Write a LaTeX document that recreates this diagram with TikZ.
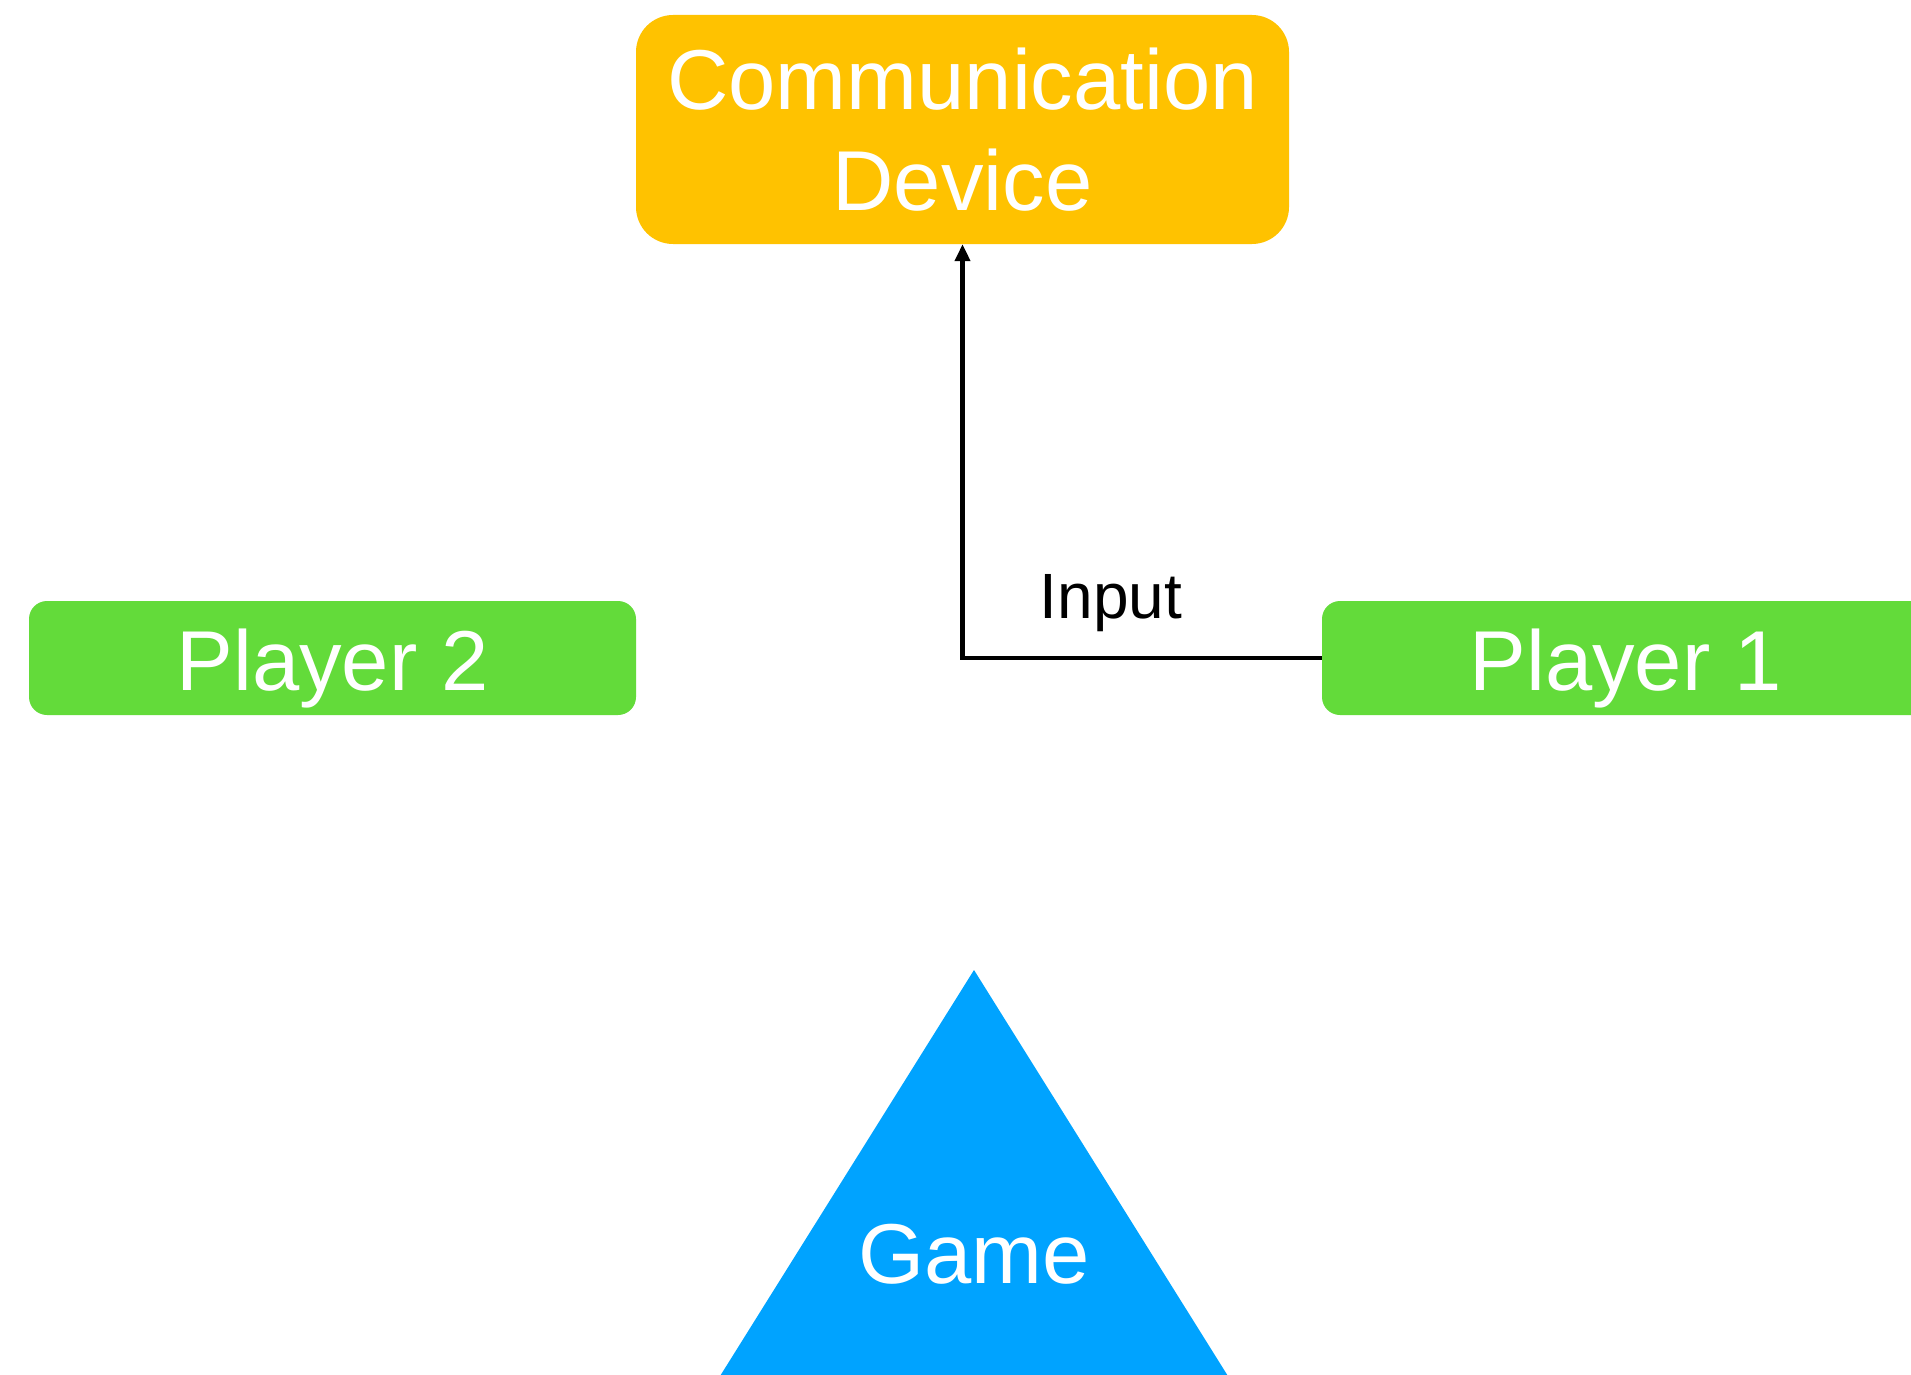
\documentclass[tikz,border=0pt]{standalone}
\usepackage{fontspec}
\setmainfont{Liberation Sans}
\usetikzlibrary{arrows.meta}
\definecolor{devorange}{HTML}{FFC200}
\definecolor{playgreen}{HTML}{63DB3A}
\definecolor{gameblue}{HTML}{00A3FF}
\begin{document}
\begin{tikzpicture}[x=1pt,y=-1pt,
  bigtext/.style={text=white, font=\fontsize{85}{101}\selectfont},
  devicebox/.style={bigtext, fill=devorange, rounded corners=37pt, inner sep=0pt,
    minimum width=653pt, minimum height=229pt, align=center},
  playerbox/.style={bigtext, fill=playgreen, rounded corners=18pt, inner sep=0pt,
    minimum width=607pt, minimum height=114pt, text height=80pt, text depth=16pt},
  flow/.style={line width=4.5pt, -{Triangle[length=17pt,width=15pt]}},
  flowlabel/.style={font=\fontsize{64}{77}\selectfont, inner sep=0pt}]
  \useasboundingbox (0,0) rectangle (1911,1375);
  \clip (0,0) rectangle (1911,1375);

  % game triangle
  \fill[gameblue] (974,970) -- (620,1536) -- (1328,1536) -- cycle;
  \node[bigtext, anchor=base, inner sep=0pt] (game) at (974,1283) {Game};

  % boxes
  \node[devicebox] (comm) at (962.5,129.5) {Communication\\Device};
  \node[playerbox] (p2) at (332.5,658) {Player 2};
  \node[playerbox] (p1) at (1625.5,658) {Player 1};

  % input connector
  \draw[flow] (p1.west) -- (p1.west -| comm.south) -- (comm.south);
  \node[flowlabel, anchor=base] (inlbl) at (1111,618) {Input};
\end{tikzpicture}
\end{document}
